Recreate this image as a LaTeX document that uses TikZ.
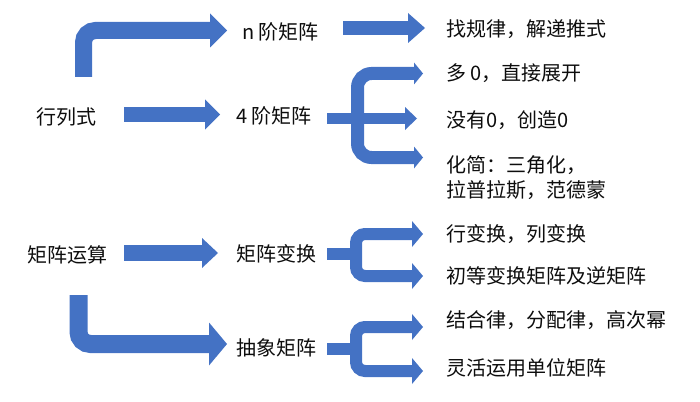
\documentclass[tikz,border=0pt]{standalone}
\usepackage{fontspec}
\setmainfont{Noto Sans CJK SC}
\usetikzlibrary{arrows.meta}
\definecolor{arrblue}{HTML}{4472C4}
\definecolor{txtc}{HTML}{0D0D0D}
\tikzset{
  txt/.style={anchor=west, inner sep=0pt, text=txtc, align=left,
    font=\fontsize{20}{25}\selectfont},
  blockarrow/.style n args={3}{draw=arrblue, line width=#1,
    -{Triangle[width=#2, length=#3, line width=0pt]}},
  fork/.style n args={3}{draw=arrblue, line width=#1, rounded corners=9pt,
    {Triangle[width=#2, length=#3, line width=0pt]}-{Triangle[width=#2, length=#3, line width=0pt]}},
  stem/.style={draw=arrblue, line width=#1},
}
\begin{document}
\begin{tikzpicture}[x=1pt, y=-1pt]
\useasboundingbox (0,0) rectangle (700,401);
% text nodes
\node[txt] (hls) at (36,117) {行列式};
\node[txt] (jzys) at (27,255) {矩阵运算};
\node[txt] (njie) at (242,32) {n 阶矩阵};
\node[txt] (sjie) at (236,116) {4 阶矩阵};
\node[txt] (jzbh) at (236,254) {矩阵变换};
\node[txt] (cxjz) at (236,348) {抽象矩阵};
\node[txt] (r1) at (446,29) {找规律，解递推式};
\node[txt] (r2) at (446,73) {多 0，直接展开};
\node[txt] (r3) at (446,120) {没有0，创造0};
\node[txt] (r4) at (446,177.5) {化简：三角化，\\拉普拉斯，范德蒙};
\node[txt] (r5) at (446,234) {行变换，列变换};
\node[txt] (r6) at (446,276) {初等变换矩阵及逆矩阵};
\node[txt] (r7) at (446,320) {结合律，分配律，高次幂};
\node[txt] (r8) at (446,368) {灵活运用单位矩阵};
% arrow end coordinates
\coordinate (a1s) at (83.5,77);
\coordinate (a1c) at (83.5,30.5);
\coordinate (a1e) at (227,30.5);
\coordinate (a2s) at (124,114.5);
\coordinate (a2e) at (220,114.5);
\coordinate (a3s) at (124,253);
\coordinate (a3e) at (218,253);
\coordinate (a4s) at (78.5,295);
\coordinate (a4c) at (78.5,344);
\coordinate (a4e) at (227,344);
\coordinate (a5s) at (343,28);
\coordinate (a5e) at (425,28);
% three-way fork
\coordinate (f1t) at (423,73.5);
\coordinate (f1a) at (357.5,73.5);
\coordinate (f1b) at (357.5,157.5);
\coordinate (f1u) at (423,157.5);
\coordinate (f1s) at (327,118.5);
\coordinate (f1e) at (417,118.5);
% two-way forks
\coordinate (f2t) at (423,234);
\coordinate (f2a) at (356,234);
\coordinate (f2b) at (356,276);
\coordinate (f2u) at (423,276);
\coordinate (f2s) at (327,254);
\coordinate (f2m) at (356,254);
\coordinate (f3t) at (423,327);
\coordinate (f3a) at (356,327);
\coordinate (f3b) at (356,371);
\coordinate (f3u) at (423,371);
\coordinate (f3s) at (327,349);
\coordinate (f3m) at (356,349);
% arrows
\draw[blockarrow={17pt}{34pt}{17pt}, rounded corners=12pt] (a1s) -- (a1c) -- (a1e);
\draw[blockarrow={15pt}{30pt}{15pt}] (a2s) -- (a2e);
\draw[blockarrow={16pt}{30pt}{16pt}] (a3s) -- (a3e);
\draw[blockarrow={18pt}{43pt}{18pt}, rounded corners=12pt] (a4s) -- (a4c) -- (a4e);
\draw[blockarrow={14pt}{30pt}{17pt}] (a5s) -- (a5e);
\draw[fork={13pt}{22pt}{9pt}, rounded corners=14pt] (f1t) -- (f1a) -- (f1b) -- (f1u);
\draw[blockarrow={11pt}{23pt}{12pt}] (f1s) -- (f1e);
\draw[fork={12pt}{26pt}{11pt}] (f2t) -- (f2a) -- (f2b) -- (f2u);
\draw[stem=12pt] (f2s) -- (f2m);
\draw[fork={12pt}{26pt}{11pt}] (f3t) -- (f3a) -- (f3b) -- (f3u);
\draw[stem=12pt] (f3s) -- (f3m);
\end{tikzpicture}
\end{document}
